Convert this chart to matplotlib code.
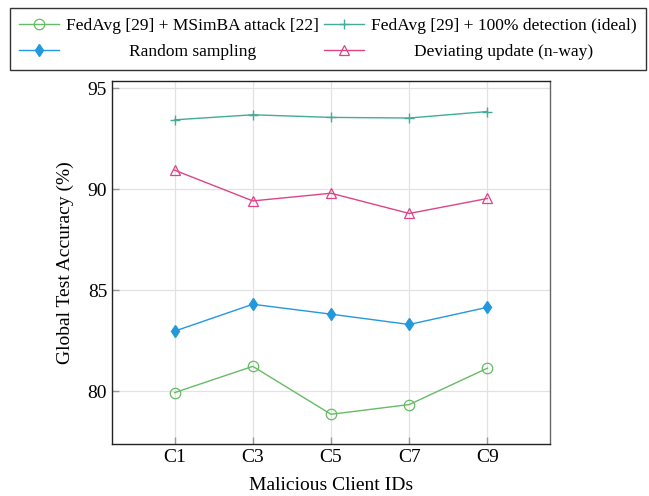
import matplotlib
matplotlib.use("Agg")
from matplotlib import pyplot as plt

clients = ["C1", "C3", "C5", "C7", "C9"]
client_pos = [1, 3, 5, 7, 9]

fedavg_attack = [79.94, 81.24, 78.87, 79.35, 81.15]
fedavg_ideal = [93.43, 93.68, 93.55, 93.52, 93.84]
random_sampling = [82.98, 84.31, 83.82, 83.31, 84.16]
deviating_update = [90.94, 89.42, 89.80, 88.80, 89.54]

labels = [
    "FedAvg [29] + MSimBA attack [22]",
    "FedAvg [29] + 100% detection (ideal)",
    "Random sampling",
    "Deviating update (n-way)",
]

plt.rcParams["font.family"] = ["Liberation Serif", "DejaVu Serif"]
plt.rcParams["font.size"] = 14

fig = plt.figure(figsize=(6.49, 4.96), dpi=100)
ax = fig.add_axes([112 / 649, 1 - 444 / 496, (550 - 112) / 649, (444 - 81) / 496])

green = "#66bb66"
teal = "#44aa99"
blue = "#2299dd"
pink = "#dd4488"

l0, = ax.plot(client_pos, fedavg_attack, color=green, lw=1, marker="o", ms=7.5,
              mfc="none", mec=green, mew=0.9, label=labels[0])
l1, = ax.plot(client_pos, fedavg_ideal, color=teal, lw=1, marker="+", ms=7,
              mew=1, label=labels[1])
l2, = ax.plot(client_pos, random_sampling, color=blue, lw=1, marker="d", ms=6,
              mfc=blue, mec=blue, label=labels[2])
l3, = ax.plot(client_pos, deviating_update, color=pink, lw=1, marker="^", ms=6.5,
              mfc="none", mec=pink, mew=0.9, label=labels[3])

ax.set_xlim(-0.6, 10.6)
ax.set_ylim(77.4, 95.35)
ax.set_xticks(client_pos)
ax.set_xticklabels(clients)
ax.set_yticks([80, 85, 90, 95])
ax.grid(True, color="#e2e2e2", lw=0.9)
ax.set_axisbelow(True)
ax.tick_params(direction="in", length=5, color="#999999", width=1)
for s in ax.spines.values():
    s.set_color("#222222")
    s.set_linewidth(1)
ax.spines["right"].set_color("#666666")

ax.set_xlabel("Malicious Client IDs", labelpad=8)
ax.set_ylabel("Global Test Accuracy (%)", labelpad=10)

# row-wise order for a 2-column legend
handles = [l0, l2, l1, l3]
leg = fig.legend(handles, [h.get_label() for h in handles],
                 loc="upper center", bbox_to_anchor=(328 / 649, 1 - 8 / 496),
                 borderaxespad=0, ncol=2, frameon=True, fancybox=False,
                 edgecolor="black", handlelength=2.3, handletextpad=0.4,
                 columnspacing=0.3, labelspacing=0.6, borderpad=0.55,
                 fontsize=12.5)
leg.get_frame().set_linewidth(1)

# center labels within their column, like pgfplots
fig.canvas.draw()
r = fig.canvas.get_renderer()
texts = leg.get_texts()
for col in ([0, 1], [2, 3]):
    widths = [texts[i].get_window_extent(r).width for i in col]
    wmax = max(widths)
    for i, w in zip(col, widths):
        texts[i].set_position(((wmax - w) / 2, 0))

fig.savefig("out.png", dpi=100)
